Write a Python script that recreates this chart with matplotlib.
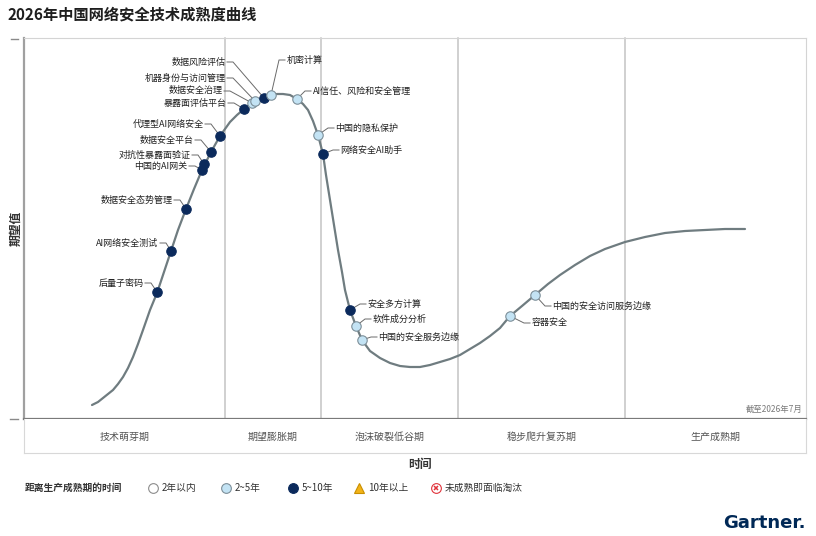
import matplotlib
matplotlib.use("Agg")
import matplotlib.pyplot as plt

plt.rcParams['font.family'] = ['Noto Sans CJK SC', 'DejaVu Sans']

title = "2026年中国网络安全技术成熟度曲线"
phases = ["技术萌芽期", "期望膨胀期", "泡沫破裂低谷期", "稳步爬升复苏期", "生产成熟期"]
phase_edges = [0, 201, 297, 434, 601, 782]
as_of = "截至2026年7月"

# hype curve (time, expectations)
curve_x = [68, 74, 79, 84, 89, 94, 99, 104, 109, 114,
           119, 126, 133, 140, 147, 154, 162, 170, 178, 187,
           196, 206, 213, 220, 228, 234, 240, 247, 253, 259,
           266, 273, 279, 284, 289, 294, 299, 302, 306, 310,
           314, 318, 321, 326, 332, 338, 346, 356, 366, 376,
           386, 396, 406, 416, 426, 436, 446, 456, 466, 476,
           486, 498, 511, 524, 536, 551, 566, 581, 601, 621,
           641, 661, 681, 701, 721]
curve_y = [14, 17, 21, 25, 29, 35, 42, 51, 62, 75,
           89, 109, 126, 147, 168, 189, 210, 230, 249, 267,
           283, 297, 304, 310, 316, 319, 321, 324, 325, 325,
           324, 320, 315, 309, 298, 284, 265, 244, 219, 194,
           169, 147, 129, 109, 93, 79, 68, 61, 56, 53,
           52, 52, 54, 57, 60, 64, 70, 76, 83, 91,
           103, 113, 124, 135, 144, 154, 163, 170, 177, 182,
           186, 188, 189, 190, 190]

tech_names = ["后量子密码", "AI网络安全测试", "数据安全态势管理", "中国的AI网关",
              "对抗性暴露面验证", "数据安全平台", "代理型AI网络安全", "暴露面评估平台",
              "数据安全治理", "机器身份与访问管理", "数据风险评估", "机密计算",
              "AI信任、风险和安全管理", "中国的隐私保护", "网络安全AI助手", "安全多方计算",
              "软件成分分析", "中国的安全服务边缘", "容器安全", "中国的安全访问服务边缘"]
tech_x = [133, 147, 162, 178, 180, 187, 196, 220, 228, 231,
          240, 247, 273, 294, 299, 326, 332, 338, 486, 511]
tech_y = [127, 168, 210, 249, 255, 267, 283, 310, 316, 318,
          321, 324, 320, 284, 265, 109, 93, 79, 103, 124]
tech_years = ["5~10年", "5~10年", "5~10年", "5~10年", "5~10年", "5~10年", "5~10年", "5~10年",
              "2~5年", "2~5年", "5~10年", "2~5年", "2~5年", "2~5年", "5~10年", "5~10年",
              "2~5年", "2~5年", "2~5年", "2~5年"]

legend_title = "距离生产成熟期的时间"
legend_cats = ["2年以内", "2~5年", "5~10年", "10年以上", "未成熟即面临淘汰"]

# label knee offsets in pixels (dx right, dy down) from each marker
label_knees = [(-6, -9), (-5, -8), (-6, -9), (-7, -4), (-6, -9), (-10, -12), (-9, -12),
               (-10, -6), (-22, -12), (-22, -23), (-31, -36), (8, -35), (8, -8),
               (10, -7), (10, -4), (10, -6), (9, -7), (9, -3), (14, 7), (10, 11)]

styles = {
    "2年以内": dict(marker='o', mfc='white', mec='#8c8c8c'),
    "2~5年": dict(marker='o', mfc='#c3e3f4', mec='#7d8f99'),
    "5~10年": dict(marker='o', mfc='#0b2a5c', mec='#0b2a5c'),
    "10年以上": dict(marker='^', mfc='#f2b318', mec='#c98f00'),
    "未成熟即面临淘汰": dict(marker='o', mfc='white', mec='#e0323a'),
}

W, H = 816, 536
fig = plt.figure(figsize=(W / 100, H / 100), dpi=100)
fig.patch.set_facecolor('white')

L, R, T, B = 24, 806, 38, 419
ax = fig.add_axes([L / W, 1 - B / H, (R - L) / W, (B - T) / H])
ax.set_xlim(0, 782)
ax.set_ylim(0, 381)
ax.set_xticks([])
ax.set_yticks([])
for s in ['top', 'right']:
    ax.spines[s].set_color('#d4d4d4')
    ax.spines[s].set_linewidth(0.8)
ax.spines['left'].set_color('#a0a0a0')
ax.spines['left'].set_linewidth(1.6)
ax.spines['bottom'].set_color('#7a7a7a')
ax.spines['bottom'].set_linewidth(1.6)

for e in phase_edges[1:-1]:
    ax.axvline(e, ymin=-0.01, ymax=1, color='#c4c4c4', lw=1.1, zorder=1, clip_on=False)

ax.plot(curve_x, curve_y, color='#6f7c80', lw=1.6, zorder=3,
        solid_capstyle='round', solid_joinstyle='round')

for name, x, y, yr, (kdx, kdy) in zip(tech_names, tech_x, tech_y, tech_years, label_knees):
    px, py = ax.transData.transform((x, y))
    side = -1 if kdx < 0 else 1
    kx, ky = px + kdx, py - kdy
    sx = kx + 6 * side
    inv = ax.transData.inverted()
    (x1, y1), (x2, y2), (tx, ty) = inv.transform([(kx, ky), (sx, ky), (sx + 1.5 * side, ky)])
    ax.plot([x, x1, x2], [y, y1, y2], color='#6a6a6a', lw=0.7, zorder=2)
    ax.text(tx, ty, name, ha='right' if side < 0 else 'left', va='center',
            fontsize=6.5, color='#222222')
    ax.plot(x, y, ms=6.8, mew=0.8, zorder=4, ls='none', **styles[yr])

ax.text(0.995, 0.026, as_of, transform=ax.transAxes, ha='right', va='center',
        fontsize=6, color='#7a7a7a')
ax.set_ylabel("期望值", fontsize=8.5, fontweight='bold', color='#333333', labelpad=1)

# phase band
band = fig.add_axes([L / W, 1 - 453 / H, (R - L) / W, 34 / H])
band.set_xlim(0, 782)
band.set_ylim(0, 1)
band.set_xticks([])
band.set_yticks([])
band.spines['top'].set_visible(False)
for s in ['left', 'right', 'bottom']:
    band.spines[s].set_color('#d8d8d8')
    band.spines[s].set_linewidth(0.8)
for i, p in enumerate(phases):
    band.text((phase_edges[i] + phase_edges[i + 1]) / 2, 0.47, p, ha='center', va='center',
              fontsize=7.2, color='#555555')

# overlay for title, x label, legend and logo
ov = fig.add_axes([0, 0, 1, 1])
ov.set_xlim(0, W)
ov.set_ylim(H, 0)
ov.axis('off')
ov.patch.set_alpha(0)

ov.text(8, 14, title, ha='left', va='center', fontsize=11, color='#1e1e1e', fontweight='bold')
ov.plot([11, 18], [39, 39], color='#8a8a8a', lw=1)
ov.plot([10, 18], [419, 419], color='#8a8a8a', lw=1)
ov.text(420, 464, "时间", ha='center', va='center', fontsize=8.5, fontweight='bold', color='#333333')

ov.text(25, 488, legend_title, ha='left', va='center', fontsize=7, color='#333333', fontweight='bold')
leg_pos = [153, 226, 293, 359, 436]
for cat, lx in zip(legend_cats, leg_pos):
    ov.plot(lx, 488, ms=7, mew=0.8, ls='none', **styles[cat])
    if cat == "未成熟即面临淘汰":
        ov.plot(lx, 488, marker='x', ms=3.5, mew=1.1, color='#e0323a', ls='none')
    ov.text(lx + 9, 488, cat, ha='left', va='center', fontsize=7, color='#333333')

ov.text(806, 523, "Gartner.", ha='right', va='center', fontsize=13, fontweight='bold',
        color='#002856', family=['Liberation Sans Narrow', 'DejaVu Sans'])

fig.savefig('out.png', dpi=100)
